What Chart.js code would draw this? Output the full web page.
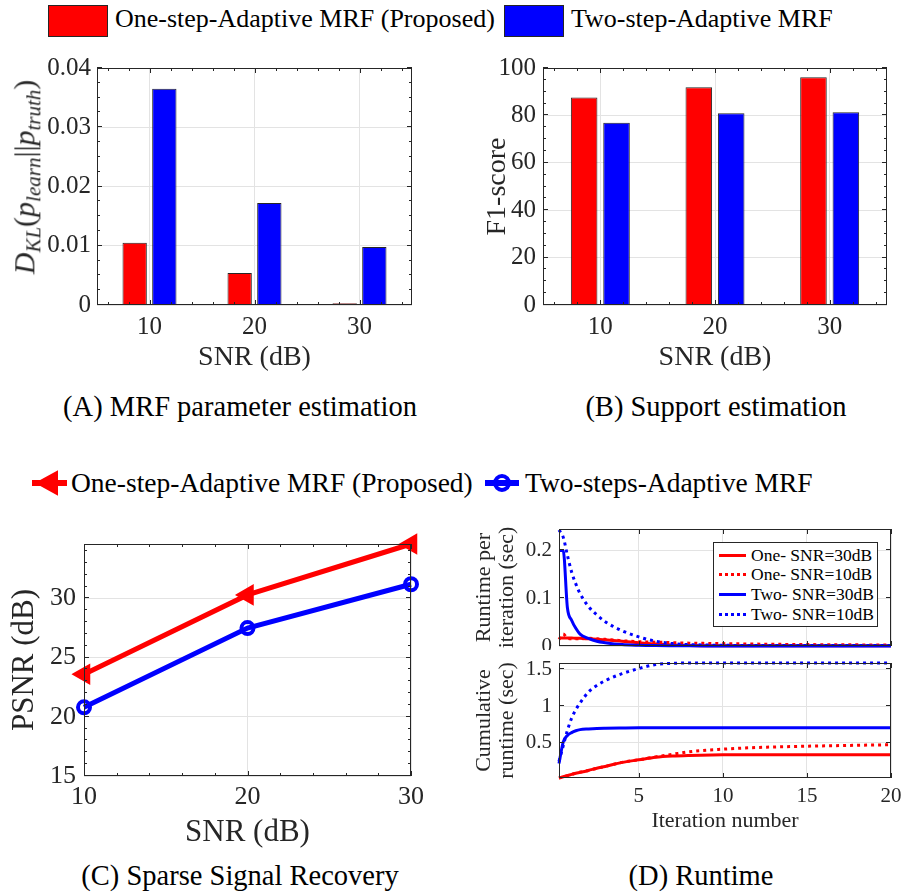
<!DOCTYPE html>
<html>
<head>
<meta charset="utf-8">
<title>Adaptive MRF results</title>
<script src="https://cdn.jsdelivr.net/npm/chart.js@4.4.1/dist/chart.umd.min.js"></script>
<style>
  body { margin: 0; background: #fff; }
  #fig { position: relative; width: 904px; height: 895px; overflow: hidden; font-family: "Liberation Serif", serif; color: #000; }
  canvas { position: absolute; }
  .txt { position: absolute; white-space: nowrap; line-height: 1; }
  .cap { position: absolute; white-space: nowrap; line-height: 1; font-size: 28.5px; transform: translateX(-50%); }
  .swatch { position: absolute; box-sizing: border-box; border: 1.5px solid #262626; }
  #klLabel { position: absolute; left: 27px; top: 177px; white-space: nowrap; line-height: 1; font-size: 30px; color: #262626;
             transform: translate(-50%, -50%) rotate(-90deg); }
  #klLabel i { font-style: italic; }
  #klLabel sub { font-size: 21px; font-style: italic; vertical-align: -0.3em; line-height: 1; }
  #legD { position: absolute; left: 713px; top: 542px; width: 165px; height: 85px; box-sizing: border-box;
          border: 1px solid #262626; background: #fff; }
  #legD .row { position: absolute; left: 0; height: 18px; width: 160px; }
  #legD .smp { position: absolute; left: 5px; top: 8px; width: 27px; height: 0; }
  #legD .lbl { position: absolute; left: 37px; top: 0; font-size: 17.5px; line-height: 18px; white-space: nowrap; color: #000; }
</style>
</head>
<body>
<div id="fig">
  <!-- shared legend for (A) and (B) -->
  <div class="swatch" style="left:48px;top:5px;width:60px;height:32px;background:#ff0000"></div>
  <div class="txt" style="left:115px;top:5.5px;font-size:26px">One-step-Adaptive MRF (Proposed)</div>
  <div class="swatch" style="left:504px;top:5px;width:60px;height:32px;background:#0000ff"></div>
  <div class="txt" style="left:571px;top:5.5px;font-size:26px">Two-step-Adaptive MRF</div>

  <canvas id="chartA" width="440" height="330" style="left:0;top:50px"></canvas>
  <canvas id="chartB" width="454" height="330" style="left:450px;top:50px"></canvas>
  <div id="klLabel"><i>D</i><sub>KL</sub>(<i>p</i><sub>learn</sub>||<i>p</i><sub>truth</sub>)</div>
  <div class="cap" style="left:240px;top:393px">(A) MRF parameter estimation</div>
  <div class="cap" style="left:716px;top:393px">(B) Support estimation</div>

  <!-- legend for (C) -->
  <svg style="position:absolute;left:28px;top:466px" width="44" height="34">
    <line x1="4" y1="17" x2="39" y2="17" stroke="#ff0000" stroke-width="6"/>
    <polygon points="9,17 29,6 29,28" fill="#ff0000" stroke="#ff0000" stroke-width="2"/>
  </svg>
  <div class="txt" style="left:71px;top:469px;font-size:27.5px">One-step-Adaptive MRF (Proposed)</div>
  <svg style="position:absolute;left:480px;top:466px" width="44" height="34">
    <line x1="5" y1="17" x2="39" y2="17" stroke="#0000ff" stroke-width="6"/>
    <circle cx="22" cy="17" r="7" fill="none" stroke="#0000ff" stroke-width="4"/>
  </svg>
  <div class="txt" style="left:525px;top:469px;font-size:27.5px">Two-steps-Adaptive MRF</div>

  <canvas id="chartC" width="440" height="350" style="left:0;top:510px"></canvas>
  <canvas id="chartD1" width="454" height="150" style="left:450px;top:500px"></canvas>
  <canvas id="chartD2" width="454" height="180" style="left:450px;top:660px"></canvas>

  <div id="legD">
    <div class="row" style="top:3px"><div class="smp" style="border-top:3px solid #ff0000"></div><div class="lbl">One- SNR=30dB</div></div>
    <div class="row" style="top:22px"><div class="smp" style="border-top:3px dotted #ff0000"></div><div class="lbl">One- SNR=10dB</div></div>
    <div class="row" style="top:42px"><div class="smp" style="border-top:3px solid #0000ff"></div><div class="lbl">Two- SNR=30dB</div></div>
    <div class="row" style="top:62px"><div class="smp" style="border-top:3px dotted #0000ff"></div><div class="lbl">Two- SNR=10dB</div></div>
  </div>

  <div class="cap" style="left:240px;top:862px">(C) Sparse Signal Recovery</div>
  <div class="cap" style="left:701px;top:862px">(D) Runtime</div>
</div>

<script>
// ---- data ----
const snr = [10, 20, 30];
const klOneStep = [0.0105, 0.0054, 0.0003];
const klTwoStep = [0.0365, 0.0172, 0.0098];
const f1OneStep = [87.6, 91.9, 96.1];
const f1TwoStep = [76.9, 80.9, 81.3];
const psnrOneStep = [23.6, 30.3, 34.6];
const psnrTwoStep = [20.8, 27.5, 31.2];

// runtime curves, sampled at these iteration numbers
const iters = [0.25, 0.5, 0.75, 1, 1.25, 1.5, 2, 2.5, 3, 4, 5, 6, 7, 8, 10, 12, 15, 20];
const perIterOne30 = [0.017, 0.017, 0.017, 0.017, 0.016, 0.016, 0.015, 0.014, 0.013, 0.010, 0.007, 0.004, 0.002, 0.001, 0.0005, 0.0003, 0.0003, 0.0003];
const perIterOne10 = [0.014, 0.025, 0.016, 0.015, 0.015, 0.015, 0.016, 0.015, 0.014, 0.011, 0.009, 0.008, 0.007, 0.006, 0.005, 0.004, 0.003, 0.002];
const perIterTwo30 = [0.2, 0.2, 0.08, 0.054, 0.037, 0.025, 0.016, 0.010, 0.007, 0.003, 0.0015, 0.0008, 0.0005, 0.0003, 0.0002, 0.0001, 0.0001, 0.0001];
const perIterTwo10 = [0.243, 0.228, 0.19, 0.155, 0.13, 0.11, 0.083, 0.065, 0.051, 0.032, 0.019, 0.010, 0.005, 0.003, 0.0015, 0.001, 0.001, 0.001];
const cumOne30 = [0.023, 0.04, 0.056, 0.072, 0.088, 0.1, 0.126, 0.155, 0.18, 0.235, 0.27, 0.305, 0.322, 0.33, 0.338, 0.34, 0.34, 0.34];
const cumOne10 = [0.023, 0.04, 0.056, 0.072, 0.088, 0.1, 0.126, 0.155, 0.18, 0.235, 0.27, 0.31, 0.345, 0.38, 0.415, 0.437, 0.455, 0.475];
const cumTwo30 = [0.22, 0.51, 0.6, 0.64, 0.665, 0.68, 0.69, 0.697, 0.7, 0.703, 0.705, 0.705, 0.705, 0.705, 0.705, 0.705, 0.705, 0.705];
const cumTwo10 = [0.25, 0.46, 0.67, 0.835, 0.95, 1.04, 1.19, 1.28, 1.345, 1.44, 1.51, 1.565, 1.58, 1.585, 1.585, 1.585, 1.585, 1.585];

// tick values
const snrTicks = [10, 20, 30];
const klTicks = [0, 0.01, 0.02, 0.03, 0.04];
const f1Ticks = [0, 20, 40, 60, 80, 100];
const psnrTicks = [15, 20, 25, 30];
const iterTicks = [5, 10, 15, 20];
const perIterTicks = [0, 0.1, 0.2];
const cumTicks = [0.5, 1, 1.5];

const RED = '#ff0000';
const BLUE = '#0000ff';
const INK = '#262626';
const GRID = '#e3e3e3';
const SERIF = "'Liberation Serif', serif";

Chart.defaults.font.family = SERIF;
Chart.defaults.color = INK;
Chart.defaults.animation = false;
Chart.defaults.events = [];
Chart.defaults.plugins.legend.display = false;
Chart.defaults.plugins.tooltip.enabled = false;

// MATLAB-style box with inward major/minor ticks on all four sides
const matlabBox = {
  id: 'matlabBox',
  afterDatasetsDraw(chart, args, opts) {
    const {ctx, chartArea: a} = chart;
    const xs = chart.scales.x, ys = chart.scales.y;
    ctx.save();
    ctx.strokeStyle = INK;
    ctx.lineWidth = 1;
    ctx.beginPath();
    const vTick = (px, len) => {
      const p = Math.round(px) + 0.5;
      ctx.moveTo(p, a.bottom); ctx.lineTo(p, a.bottom - len);
      ctx.moveTo(p, a.top); ctx.lineTo(p, a.top + len);
    };
    const hTick = (py, len) => {
      const p = Math.round(py) - 0.5;
      ctx.moveTo(a.left, p); ctx.lineTo(a.left + len, p);
      ctx.moveTo(a.right, p); ctx.lineTo(a.right - len, p);
    };
    const minor = (scale, step, fn) => {
      if (!step) return;
      for (let i = Math.ceil(scale.min / step - 1e-9); i * step <= scale.max + 1e-9; i++) {
        fn(scale.getPixelForValue(i * step), 3);
      }
    };
    minor(xs, opts.xMinor, vTick);
    minor(ys, opts.yMinor, hTick);
    xs.ticks.forEach(t => vTick(xs.getPixelForValue(t.value), 5));
    ys.ticks.forEach(t => hTick(ys.getPixelForValue(t.value), 5));
    ctx.stroke();
    ctx.strokeRect(Math.round(a.left) + 0.5, Math.round(a.top) + 0.5,
                   Math.round(a.width) - 1, Math.round(a.height) - 1);
    ctx.restore();
  }
};

// fixed scale sizes so the plot boxes land where the figure has them
const fixW = w => s => { s.width = w; s.paddingTop = 0; s.paddingBottom = 0; };
const fixH = h => s => { s.height = h; s.paddingLeft = 0; s.paddingRight = 0; };
const setTicks = vals => s => { s.ticks = vals.map(v => ({value: v})); };
const tickFont = size => ({family: SERIF, size: size, lineHeight: 1});
const num = v => String(v);

function xScale(o) {
  return {
    type: 'linear', min: o.min, max: o.max, offset: false,
    afterBuildTicks: setTicks(o.ticks), afterFit: fixH(o.height),
    grid: {color: GRID, drawTicks: false, offset: false},
    border: {display: false},
    ticks: {display: o.showTicks !== false, font: tickFont(o.font), padding: o.pad, autoSkip: false, maxRotation: 0, callback: num},
    title: o.title ? {display: true, text: o.title, font: {family: SERIF, size: o.titleSize, lineHeight: 1}, padding: {top: 0, bottom: o.titlePad}, color: INK} : {display: false}
  };
}

function yScale(o) {
  return {
    min: o.min, max: o.max,
    afterBuildTicks: setTicks(o.ticks), afterFit: fixW(o.width),
    grid: {color: GRID, drawTicks: false},
    border: {display: false},
    ticks: {font: tickFont(o.font), padding: o.pad, autoSkip: false, callback: num},
    title: o.title ? {display: true, text: o.title, font: {family: SERIF, size: o.titleSize, lineHeight: o.titleLH || 1}, padding: {top: o.titlePad, bottom: 0}, color: INK} : {display: false}
  };
}

function barSet(values, color) {
  return {
    data: values, backgroundColor: color, borderColor: INK, borderWidth: 1,
    categoryPercentage: 0.565, barPercentage: 0.82
  };
}

// (A) MRF parameter estimation
new Chart(document.getElementById('chartA'), {
  type: 'bar',
  data: {labels: snr, datasets: [barSet(klOneStep, RED), barSet(klTwoStep, BLUE)]},
  options: {
    responsive: false,
    layout: {padding: {top: 18, right: 28, left: 0, bottom: 0}},
    scales: {
      x: xScale({min: 5, max: 35, ticks: snrTicks, height: 75, font: 25, pad: 9.5, title: 'SNR (dB)', titleSize: 28, titlePad: 8}),
      y: yScale({min: 0, max: 0.04, ticks: klTicks, width: 97, font: 25, pad: 6})
    },
    plugins: {matlabBox: {xMinor: 2, yMinor: 0.0025}}
  },
  plugins: [matlabBox]
});

// (B) Support estimation
new Chart(document.getElementById('chartB'), {
  type: 'bar',
  data: {labels: snr, datasets: [barSet(f1OneStep, RED), barSet(f1TwoStep, BLUE)]},
  options: {
    responsive: false,
    layout: {padding: {top: 18, right: 17, left: 0, bottom: 0}},
    scales: {
      x: xScale({min: 5, max: 35, ticks: snrTicks, height: 75, font: 25, pad: 9.5, title: 'SNR (dB)', titleSize: 28, titlePad: 8}),
      y: yScale({min: 0, max: 100, ticks: f1Ticks, width: 93, font: 25, pad: 7, title: 'F1-score', titleSize: 28, titlePad: 34})
    },
    plugins: {matlabBox: {xMinor: 2, yMinor: 5}}
  },
  plugins: [matlabBox]
});

// (C) Sparse signal recovery
new Chart(document.getElementById('chartC'), {
  type: 'line',
  data: {
    labels: snr,
    datasets: [
      {data: psnrOneStep, borderColor: RED, borderWidth: 5, pointStyle: 'triangle', rotation: -90, pointRadius: 10.5,
       pointBackgroundColor: RED, pointBorderColor: RED, pointBorderWidth: 2, tension: 0, clip: false},
      {data: psnrTwoStep, borderColor: BLUE, borderWidth: 5, pointStyle: 'circle', pointRadius: 6,
       pointBackgroundColor: 'rgba(0,0,0,0)', pointBorderColor: BLUE, pointBorderWidth: 4, tension: 0, clip: false}
    ]
  },
  options: {
    responsive: false,
    layout: {padding: {top: 34, right: 29, left: 0, bottom: 0}},
    scales: {
      x: xScale({min: 10, max: 30, ticks: snrTicks, height: 84, font: 26, pad: 8.5, title: 'SNR (dB)', titleSize: 31, titlePad: 12}),
      y: yScale({min: 15, max: 34.6, ticks: psnrTicks, width: 84, font: 26, pad: 8, title: 'PSNR (dB)', titleSize: 31, titlePad: 9.5})
    },
    plugins: {matlabBox: {xMinor: 2, yMinor: 1}}
  },
  plugins: [matlabBox]
});

// (D) Runtime: per-iteration (top) and cumulative (bottom)
function runtimeSet(values, color, dotted, order) {
  return {
    data: values, borderColor: color, borderWidth: 3, borderDash: dotted ? [3, 4] : [],
    pointRadius: 0, cubicInterpolationMode: 'monotone', clip: false, order: order
  };
}

new Chart(document.getElementById('chartD1'), {
  type: 'line',
  data: {
    labels: iters,
    datasets: [
      runtimeSet(perIterOne30, RED, false, 3),
      runtimeSet(perIterOne10, RED, true, 2),
      runtimeSet(perIterTwo30, BLUE, false, 1),
      runtimeSet(perIterTwo10, BLUE, true, 0)
    ]
  },
  options: {
    responsive: false,
    layout: {padding: {top: 29, right: 13, left: 0, bottom: 0}},
    scales: {
      x: xScale({min: 0.25, max: 20, ticks: iterTicks, height: 4, font: 21, pad: 7, showTicks: false}),
      y: yScale({min: 0, max: 0.245, ticks: perIterTicks, width: 109, font: 21, pad: 7,
                 title: ['Runtime per', 'iteration (sec)'], titleSize: 22, titleLH: 1.045, titlePad: 22.5})
    },
    plugins: {matlabBox: {}}
  },
  plugins: [matlabBox]
});

new Chart(document.getElementById('chartD2'), {
  type: 'line',
  data: {
    labels: iters,
    datasets: [
      runtimeSet(cumOne30, RED, false, 3),
      runtimeSet(cumOne10, RED, true, 2),
      runtimeSet(cumTwo30, BLUE, false, 1),
      runtimeSet(cumTwo10, BLUE, true, 0)
    ]
  },
  options: {
    responsive: false,
    layout: {padding: {top: 3, right: 13, left: 0, bottom: 0}},
    scales: {
      x: xScale({min: 0.25, max: 20, ticks: iterTicks, height: 62, font: 21, pad: 7.5, title: 'Iteration number', titleSize: 22, titlePad: 7.5}),
      y: yScale({min: 0.023, max: 1.585, ticks: cumTicks, width: 109, font: 21, pad: 7,
                 title: ['Cumulative', 'runtime (sec)'], titleSize: 22, titleLH: 1.045, titlePad: 22.5})
    },
    plugins: {matlabBox: {}}
  },
  plugins: [matlabBox]
});
</script>
</body>
</html>
